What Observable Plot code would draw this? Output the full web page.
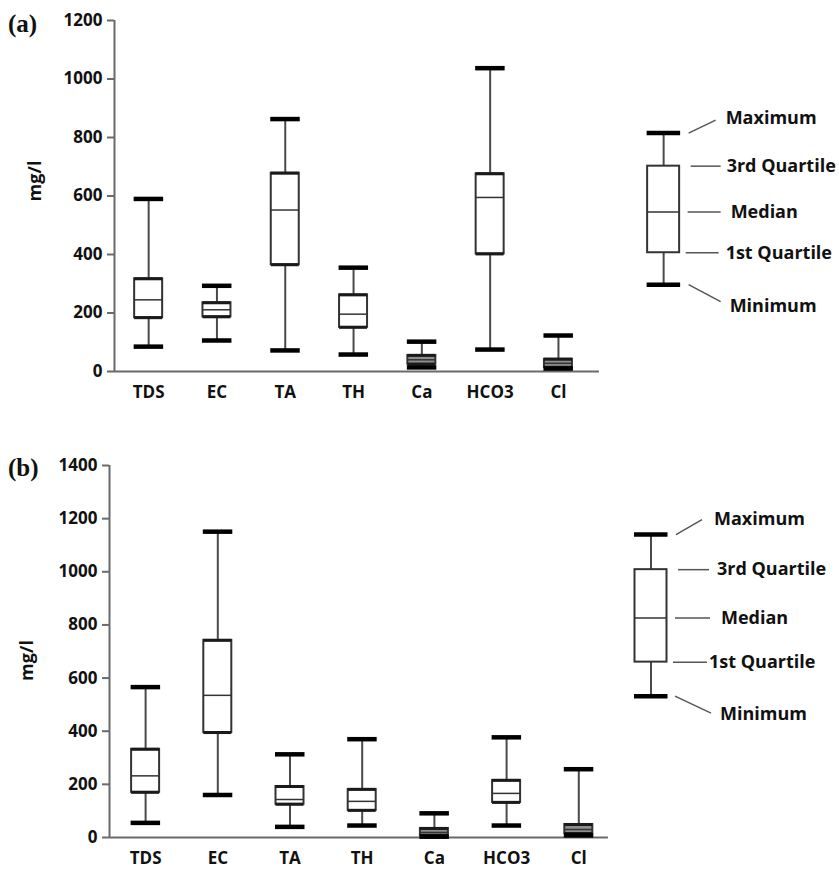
<!DOCTYPE html>
<html><head><meta charset="utf-8">
<script src="https://cdn.jsdelivr.net/npm/d3@7"></script>
<script src="https://cdn.jsdelivr.net/npm/@observablehq/plot@0.6"></script>
<style>
body{margin:0;background:#fff;}
#wrap{position:relative;width:839px;height:873px;overflow:hidden;font-family:"Open Sans",sans-serif;}
.panel{position:absolute;left:0;}
.panel svg [aria-label$="tick label"], .panel svg [aria-label$="tick label"] text{font-size:17px !important;font-weight:bold !important;}
.tag{position:absolute;font-family:"Liberation Serif",serif;font-weight:bold;font-size:25px;line-height:1;color:#111;}
</style></head><body>
<div id="wrap"></div>
<script>
const categories = ["TDS","EC","TA","TH","Ca","HCO3","Cl"];
// panel (a)
const aMin = [85,106,72,58,14,75,10];
const aQ1  = [184,187,365,151,25,402,14];
const aMed = [245,211,552,196,40,595,28];
const aQ3  = [317,235,678,262,55,676,42];
const aMax = [590,293,863,355,102,1037,123];
const aTicks = [0,200,400,600,800,1000,1200];
// panel (b)
const bMin = [55,160,40,45,3,45,8];
const bQ1  = [170,395,125,102,8,132,15];
const bMed = [232,535,143,136,19,166,30];
const bQ3  = [332,742,192,181,34,215,49];
const bMax = [566,1151,313,370,91,377,257];
const bTicks = [0,200,400,600,800,1000,1200,1400];
// legend schematic (min, Q1, median, Q3, max)
const legendLabels = ["Minimum","1st Quartile","Median","3rd Quartile","Maximum"];
const aLegend = [297,406,545,702,815];
const bLegend = [532,660,826,1008,1140];
const shadedCats = ["Ca","Cl"];

function drawPanel(cfg){
  const {mins,q1s,meds,q3s,maxs,ticks,yMax,legend,legendX,xEnd,spacing,mL,mT,mB,H,lay} = cfg;
  const W = 839;
  const mR = W - (mL + 8.5*spacing);
  const pxU = (H - mT - mB) / yMax;
  const data = categories.map((c,i)=>({cat:c,i:i+1,min:mins[i],q1:q1s[i],med:meds[i],q3:q3s[i],max:maxs[i],hw:14/spacing}));
  const leg = [{cat:"legend",i:legendX,min:legend[0],q1:legend[1],med:legend[2],q3:legend[3],max:legend[4],hw:16/spacing}];
  const all = data.concat(leg);
  const rows = legendLabels.map((t,k)=>({label:t,v:legend[k],...lay[k]}));
  const fx = px => px/spacing;
  const midV = yMax/2 - cfg.labelShift/pxU;
  return Plot.plot({
    width: W, height: H,
    marginLeft: mL, marginRight: mR, marginTop: mT, marginBottom: mB,
    x: {domain:[0.5,9], axis:null, label:null},
    y: {domain:[0,yMax], axis:null, label:null},
    style: {fontFamily:"'Open Sans', sans-serif", fontSize:"16.5px", fontWeight:"bold", color:"#111", background:"#fff"},
    marks: [
      Plot.ruleX([0.5], {y1:0, y2:yMax, stroke:"#6a6a6a", strokeWidth:2}),
      Plot.ruleY([0], {x1:0.5, x2:xEnd, stroke:"#6a6a6a", strokeWidth:2}),
      Plot.axisY(ticks, {tickSize:7, tickPadding:5, stroke:"#6a6a6a", strokeWidth:2, fontWeight:"bold", fill:"#111", label:null, tickFormat:d=>String(d)}),
      Plot.axisX([1,2,3,4,5,6,7], {tickSize:0, tickPadding:14, fontWeight:"bold", fill:"#111", label:null, tickFormat:d=>categories[d-1]}),
      Plot.text(["mg/l"], {x:0.5 - fx(cfg.labelDx), y:midV, rotate:-90, fontSize:18, fontWeight:"bold", fill:"#111"}),
      // whiskers
      Plot.ruleX(all, {x:"i", y1:"min", y2:"max", stroke:"#4a4a4a", strokeWidth:2}),
      // boxes
      Plot.rect(all, {x1:d=>d.i-d.hw, x2:d=>d.i+d.hw, y1:"q1", y2:"q3",
        fill:d=>shadedCats.includes(d.cat)?"#8e8e8e":"#fff", stroke:"#333", strokeWidth:2}),
      // quartile edges
      Plot.ruleY(data, {y:"q1", x1:d=>d.i-d.hw, x2:d=>d.i+d.hw, stroke:"#1a1a1a", strokeWidth:3}),
      Plot.ruleY(data, {y:"q3", x1:d=>d.i-d.hw, x2:d=>d.i+d.hw, stroke:"#1a1a1a", strokeWidth:3}),
      // medians
      Plot.ruleY(all, {y:"med", x1:d=>d.i-d.hw, x2:d=>d.i+d.hw, stroke:"#333", strokeWidth:1.5}),
      // caps
      Plot.ruleY(all, {y:"min", x1:d=>d.i-d.hw-0.5/spacing, x2:d=>d.i+d.hw+1/spacing, stroke:"#000", strokeWidth:4.5}),
      Plot.ruleY(all, {y:"max", x1:d=>d.i-d.hw-0.5/spacing, x2:d=>d.i+d.hw+1/spacing, stroke:"#000", strokeWidth:4.5}),
      // legend leaders
      Plot.link(rows, {x1:d=>legendX+fx(d.l1), x2:d=>legendX+fx(d.l2), y1:"v", y2:d=>d.v - d.ly/pxU, stroke:"#555", strokeWidth:1.5}),
      Plot.text(rows, {x:d=>legendX+fx(d.tx), y:d=>d.v - d.ty/pxU, text:"label", textAnchor:"start", fontSize:18, fontWeight:"bold", fill:"#111"})
    ]
  });
}

function build(cfg, top, tag, tagPos){
  const wrap = document.getElementById("wrap");
  const div = document.createElement("div");
  div.className = "panel"; div.style.top = top + "px";
  div.appendChild(drawPanel(cfg));
  wrap.appendChild(div);
  const t = document.createElement("div");
  t.className = "tag"; t.textContent = tag;
  t.style.left = tagPos[0]+"px"; t.style.top = tagPos[1]+"px";
  wrap.appendChild(t);
}

// layout offsets (pixels) for legend rows: text x offset, text y offset, leader x from/to, leader y rise
const layA = [
  {tx:66, ty:22, l1:25, l2:57, ly:17},
  {tx:62, ty:0,  l1:22, l2:55, ly:0},
  {tx:67, ty:0,  l1:24, l2:57, ly:0},
  {tx:63, ty:0,  l1:27, l2:57, ly:0},
  {tx:62, ty:-15,l1:25, l2:52, ly:-13}
];
const layB = [
  {tx:69, ty:18, l1:24, l2:60, ly:17},
  {tx:58, ty:0,  l1:22, l2:56, ly:0},
  {tx:70, ty:0,  l1:24, l2:59, ly:0},
  {tx:66, ty:0,  l1:27, l2:58, ly:0},
  {tx:63, ty:-15,l1:25, l2:51, ly:-15}
];

build({mins:aMin,q1s:aQ1,meds:aMed,q3s:aQ3,maxs:aMax,ticks:aTicks,yMax:1200,legend:aLegend,
  legendX:8.54,xEnd:7.6,spacing:68.3,mL:114,mT:20,mB:39,H:410,lay:layA,labelDx:79,labelShift:-15}, 0, "(a)", [8,11]);
build({mins:bMin,q1s:bQ1,meds:bMed,q3s:bQ3,maxs:bMax,ticks:bTicks,yMax:1400,legend:bLegend,
  legendX:8.0,xEnd:7.41,spacing:72.2,mL:109,mT:35,mB:36,H:443,lay:layB,labelDx:82,labelShift:9}, 430, "(b)", [8,455]);
</script>
</body></html>
